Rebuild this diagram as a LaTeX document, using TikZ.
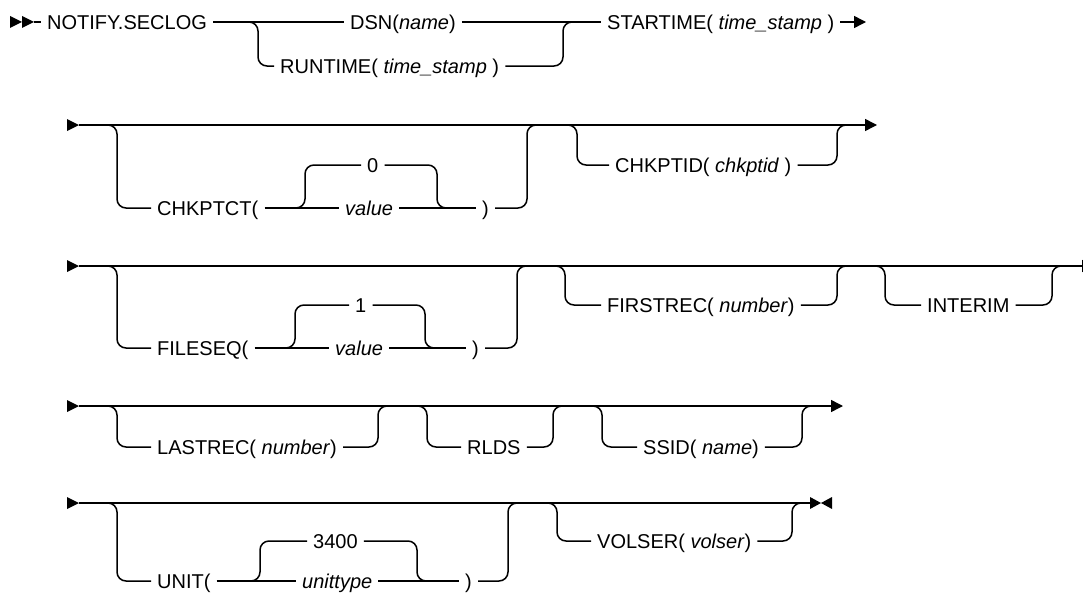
\documentclass[tikz,border=0pt]{standalone}
\usepackage{fontspec}
\setmainfont{Liberation Sans}
\usepackage{tikz}
\usetikzlibrary{positioning,arrows.meta,calc}
\tikzset{
  rail/.style={line width=1.5pt, draw=black, rounded corners=9pt},
  every node/.style={anchor=west}
}

\begin{document}
\begin{tikzpicture}[
  x=1pt, y=-1pt,
  font=\fontsize{20}{24}\selectfont,
  kw/.style={inner xsep=6pt, inner ysep=0pt, text height=14.3pt, text depth=0pt, anchor=west},
  endarrow/.style={rail, -{Triangle[length=12pt, width=12pt]}},
  head/.style={fill=black}
]
\useasboundingbox (0,0) rectangle (1083,594);

\coordinate (r1s) at (34,22);
\fill[head] (r1s) -- ++(-12,-6) -- ++(0,12) -- cycle;
\fill[head] ([xshift=-12pt]r1s) -- ++(-12,-6) -- ++(0,12) -- cycle;
\node[kw] (notify) at (41,22) {NOTIFY.SECLOG};
\node[kw] (dsn) at (344,22) {DSN(\textit{name})};
\node[kw] (runtime) at (274,66) {RUNTIME( \textit{time\_stamp} )};
\node[kw] (startime) at (601,22) {STARTIME( \textit{time\_stamp} )};
\coordinate (r1dn) at (258,22);
\coordinate (r1up) at (563,22);
\coordinate (r1end) at (866,22);
\draw[rail] (r1s) -- (notify.west);
\draw[rail] (notify.east) -- (dsn.west);
\draw[rail] (dsn.east) -- (startime.west);
\draw[rail] ([xshift=-12pt]r1dn) -- (r1dn) -- (r1dn |- runtime.west) -- (runtime.west);
\draw[rail] (runtime.east) -- (r1up |- runtime.east) -- (r1up) -- ([xshift=12pt]r1up);
\draw[endarrow] (startime.east) -- (r1end);

\coordinate (r2s) at (79,125);
\coordinate (r2end) at (877,125);
\fill[head] (r2s) -- ++(-12,-6) -- ++(0,12) -- cycle;
\draw[endarrow] (r2s) -- (r2end);
\node[kw] (chkptct) at (151,208) {CHKPTCT(};
\node[kw] (zero) at (361,165) {0};
\node[kw] (valA) at (339,208) {\textit{value}};
\node[kw] (closeA) at (476,208) {)};
\node[kw] (chkptid) at (609,165) {CHKPTID( \textit{chkptid} )};
\coordinate (r2a) at (117,125);
\coordinate (r2sp) at (305,208);
\coordinate (r2jn) at (437,208);
\coordinate (r2ra) at (527,125);
\coordinate (r2b) at (577,125);
\coordinate (r2rb) at (837,125);
\draw[rail] ([xshift=-12pt]r2a) -- (r2a) -- (r2a |- chkptct.west) -- (chkptct.west);
\draw[rail] (chkptct.east) -- (valA.west);
\draw[rail] ([xshift=-12pt]r2sp) -- (r2sp) -- (r2sp |- zero.west) -- (zero.west);
\draw[rail] (zero.east) -- (r2jn |- zero.east) -- (r2jn) -- ([xshift=12pt]r2jn);
\draw[rail] (valA.east) -- (closeA.west);
\draw[rail] (closeA.east) -- (r2ra |- closeA.east) -- (r2ra) -- ([xshift=12pt]r2ra);
\draw[rail] ([xshift=-12pt]r2b) -- (r2b) -- (r2b |- chkptid.west) -- (chkptid.west);
\draw[rail] (chkptid.east) -- (r2rb |- chkptid.east) -- (r2rb) -- ([xshift=12pt]r2rb);

\coordinate (r3s) at (79,266);
\coordinate (r3end) at (1094,266);
\fill[head] (r3s) -- ++(-12,-6) -- ++(0,12) -- cycle;
\draw[endarrow] (r3s) -- (r3end);
\node[kw] (fileseq) at (151,348) {FILESEQ(};
\node[kw] (one) at (349,305) {1};
\node[kw] (valB) at (329,348) {\textit{value}};
\node[kw] (closeB) at (466,348) {)};
\node[kw] (firstrec) at (601,305) {FIRSTREC( \textit{number})};
\node[kw] (interim) at (921,305) {INTERIM};
\coordinate (r3a) at (117,266);
\coordinate (r3sp) at (295,348);
\coordinate (r3jn) at (425,348);
\coordinate (r3ra) at (517,266);
\coordinate (r3b) at (565,266);
\coordinate (r3rb) at (837,266);
\coordinate (r3c) at (885,266);
\coordinate (r3rc) at (1052,266);
\draw[rail] ([xshift=-12pt]r3a) -- (r3a) -- (r3a |- fileseq.west) -- (fileseq.west);
\draw[rail] (fileseq.east) -- (valB.west);
\draw[rail] ([xshift=-12pt]r3sp) -- (r3sp) -- (r3sp |- one.west) -- (one.west);
\draw[rail] (one.east) -- (r3jn |- one.east) -- (r3jn) -- ([xshift=12pt]r3jn);
\draw[rail] (valB.east) -- (closeB.west);
\draw[rail] (closeB.east) -- (r3ra |- closeB.east) -- (r3ra) -- ([xshift=12pt]r3ra);
\draw[rail] ([xshift=-12pt]r3b) -- (r3b) -- (r3b |- firstrec.west) -- (firstrec.west);
\draw[rail] (firstrec.east) -- (r3rb |- firstrec.east) -- (r3rb) -- ([xshift=12pt]r3rb);
\draw[rail] ([xshift=-12pt]r3c) -- (r3c) -- (r3c |- interim.west) -- (interim.west);
\draw[rail] (interim.east) -- (r3rc |- interim.east) -- (r3rc) -- ([xshift=12pt]r3rc);

\coordinate (r4s) at (79,406);
\coordinate (r4end) at (843,406);
\fill[head] (r4s) -- ++(-12,-6) -- ++(0,12) -- cycle;
\draw[endarrow] (r4s) -- (r4end);
\node[kw] (lastrec) at (151,447) {LASTREC( \textit{number})};
\node[kw] (rlds) at (461,447) {RLDS};
\node[kw] (ssid) at (637,447) {SSID( \textit{name})};
\coordinate (r4a) at (117,406);
\coordinate (r4ra) at (378,406);
\coordinate (r4b) at (427,406);
\coordinate (r4rb) at (553,406);
\coordinate (r4c) at (602,406);
\coordinate (r4rc) at (802,406);
\draw[rail] ([xshift=-12pt]r4a) -- (r4a) -- (r4a |- lastrec.west) -- (lastrec.west);
\draw[rail] (lastrec.east) -- (r4ra |- lastrec.east) -- (r4ra) -- ([xshift=12pt]r4ra);
\draw[rail] ([xshift=-12pt]r4b) -- (r4b) -- (r4b |- rlds.west) -- (rlds.west);
\draw[rail] (rlds.east) -- (r4rb |- rlds.east) -- (r4rb) -- ([xshift=12pt]r4rb);
\draw[rail] ([xshift=-12pt]r4c) -- (r4c) -- (r4c |- ssid.west) -- (ssid.west);
\draw[rail] (ssid.east) -- (r4rc |- ssid.east) -- (r4rc) -- ([xshift=12pt]r4rc);

\coordinate (r5s) at (79,503);
\coordinate (r5end) at (821,503);
\fill[head] (r5s) -- ++(-12,-6) -- ++(0,12) -- cycle;
\draw[rail] (r5s) -- ([xshift=-9pt]r5end);
\fill[head] (r5end) -- ++(-11,-6) -- ++(0,12) -- cycle;
\fill[head] (r5end) -- ++(11,-6) -- ++(0,12) -- cycle;
\node[kw] (unit) at (151,581) {UNIT(};
\node[kw] (d3400) at (307,541) {3400};
\node[kw] (unittype) at (296,581) {\textit{unittype}};
\node[kw] (closeC) at (459,581) {)};
\node[kw] (volser) at (591,541) {VOLSER( \textit{volser})};
\coordinate (r5a) at (117,503);
\coordinate (r5sp) at (260,581);
\coordinate (r5jn) at (417,581);
\coordinate (r5ra) at (508,503);
\coordinate (r5b) at (557,503);
\coordinate (r5rb) at (792,503);
\draw[rail] ([xshift=-12pt]r5a) -- (r5a) -- (r5a |- unit.west) -- (unit.west);
\draw[rail] (unit.east) -- (unittype.west);
\draw[rail] ([xshift=-12pt]r5sp) -- (r5sp) -- (r5sp |- d3400.west) -- (d3400.west);
\draw[rail] (d3400.east) -- (r5jn |- d3400.east) -- (r5jn) -- ([xshift=12pt]r5jn);
\draw[rail] (unittype.east) -- (closeC.west);
\draw[rail] (closeC.east) -- (r5ra |- closeC.east) -- (r5ra) -- ([xshift=12pt]r5ra);
\draw[rail] ([xshift=-12pt]r5b) -- (r5b) -- (r5b |- volser.west) -- (volser.west);
\draw[rail] (volser.east) -- (r5rb |- volser.east) -- (r5rb) -- ([xshift=12pt]r5rb);
\end{tikzpicture}
\end{document}
